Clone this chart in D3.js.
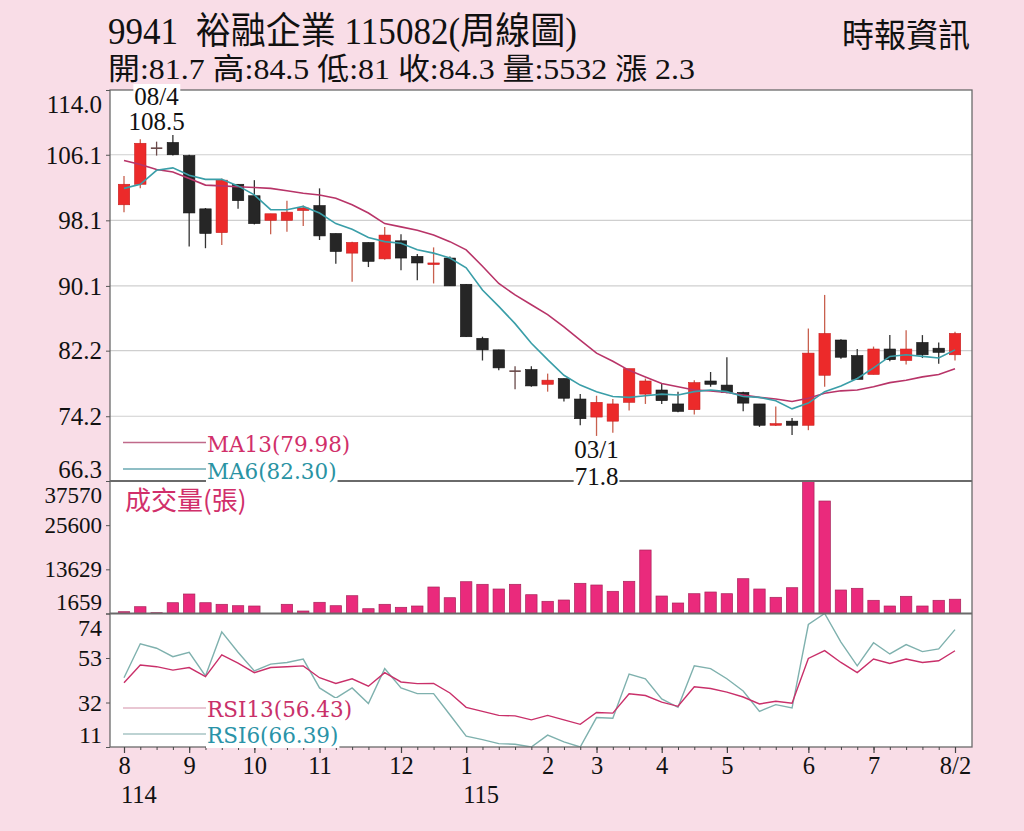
<!DOCTYPE html>
<html lang="zh-Hant">
<head>
<meta charset="UTF-8">
<script src="https://cdn.jsdelivr.net/npm/d3@7"></script>
<title>9941 裕融企業 周線圖</title>
<style>
  html, body { margin: 0; padding: 0; background: #f9dde7; }
  svg { display: block; }
</style>
</head>
<body>
<script>
// ---- data (52 weeks, 114/08 .. 115/08) ----
const opens  = [100.0,102.5,107.0,107.6,106.0,99.5,96.6,102.5,101.1,98.1,98.1,99.3,99.9,96.5,94.1,95.4,93.4,95.6,93.7,92.8,
                93.5,90.3,83.7,82.3,79.8,79.9,78.1,78.8,76.3,74.1,73.6,75.9,76.9,77.4,75.7,75.0,78.5,78.0,77.1,75.7,
                73.1,73.6,73.1,79.2,83.5,81.6,79.3,82.4,81.0,83.2,82.5,81.7];
const highs  = [103.5,108.0,107.7,108.5,106.1,99.6,103.2,102.5,103.0,98.9,100.5,99.9,102.0,96.5,95.5,95.4,97.3,96.4,94.0,94.8,
                93.7,90.3,83.9,82.3,80.3,80.3,79.4,78.8,76.9,76.7,76.3,80.0,78.8,78.2,77.2,78.6,79.6,81.4,77.2,75.7,
                75.4,74.0,84.9,89.0,83.6,82.4,82.7,84.1,84.7,84.1,83.2,84.5];
const lows   = [99.1,102.0,106.0,106.0,94.9,94.7,95.1,99.5,97.6,96.4,96.7,97.4,95.7,92.8,90.6,92.4,93.3,92.0,90.8,90.4,
                90.1,83.9,81.0,79.8,77.5,77.8,77.2,76.0,73.1,71.8,72.2,74.9,75.7,75.7,74.7,74.4,77.8,77.0,74.8,72.9,
                73.0,71.9,72.5,77.8,81.2,78.7,79.3,80.9,80.5,81.3,80.6,81.0];
const closes = [102.5,107.5,107.0,106.1,99.0,96.5,103.0,100.5,97.7,98.9,99.1,99.6,96.2,94.3,95.4,93.1,96.3,93.5,92.9,92.9,
                90.1,83.9,82.3,80.1,79.8,77.9,78.6,76.4,73.9,75.9,75.7,80.0,78.5,76.1,74.8,78.3,78.1,77.1,75.8,73.1,
                73.3,73.1,81.9,84.3,81.4,78.7,82.4,81.1,82.4,81.7,82.0,84.3];
const ma13   = [105.4,104.9,104.3,104.0,103.2,102.4,102.3,102.2,102.1,102.0,101.7,101.4,101.2,100.8,100.0,99.0,97.7,97.3,96.9,96.3,
                95.5,94.5,92.5,90.4,89.0,87.8,86.6,85.1,83.5,81.9,80.9,79.8,79.0,78.2,77.8,77.4,77.3,77.1,76.8,76.5,
                76.3,76.0,76.4,77.0,77.3,77.4,77.8,78.3,78.6,79.0,79.3,79.98];
const ma6    = [102.0,102.5,104.2,104.5,103.6,103.1,103.1,102.3,101.2,99.4,99.4,99.8,99.0,97.7,97.0,96.0,95.5,95.3,94.5,94.1,
                93.5,92.3,89.6,87.6,85.5,83.1,81.1,79.2,78.0,77.2,76.6,76.5,76.7,76.9,76.8,77.2,77.4,77.2,76.6,76.5,
                76.1,75.1,75.8,77.2,77.9,78.8,80.1,81.5,81.7,81.5,81.3,82.3];
const volumes = [2147,3502,1876,4586,6944,4586,4152,3773,3692,1659,4152,2337,4694,3773,6483,2960,4152,3339,3692,8841,
                 5941,10277,9572,8299,9572,6754,4965,5318,9843,9383,7675,10385,18867,6402,4505,7025,7486,7025,11090,8299,
                 6049,8651,37570,32146,8028,8488,5236,3692,6320,3692,5236,5532];
const rsi13  = [41.3,49.7,48.9,47.3,48.5,44.2,54.5,50.6,46.1,48.5,48.9,49.3,43.7,41.0,43.2,39.7,46.1,41.7,40.9,41.0,
                36.5,29.7,27.8,25.9,25.7,23.8,25.9,23.8,21.7,27.3,27.0,36.1,35.3,32.2,30.2,39.4,38.6,36.9,34.6,31.3,
                32.6,31.7,52.8,56.5,50.9,46.1,52.5,50.4,52.5,50.9,51.7,56.43];
const rsi6   = [43.7,59.7,57.6,53.6,55.7,44.5,65.3,55.7,46.9,50.1,50.9,52.5,38.9,34.1,38.9,31.5,48.0,38.9,36.2,36.2,
                26.2,16.1,14.5,12.6,12.3,11.0,16.6,13.4,11.0,24.9,24.6,45.4,43.2,33.7,29.7,49.3,48.0,43.2,37.4,27.8,
                31.0,29.4,68.8,74.0,60.5,49.3,60.2,54.9,59.3,56.0,57.3,66.39];

const priceTicks = [114.0, 106.1, 98.1, 90.1, 82.2, 74.2, 66.3];
const volTicks   = [37570, 25600, 13629, 1659];
const rsiTicks   = [74, 53, 32, 11];
const monthIdx    = [0, 4, 8, 12, 17, 21, 26, 29, 33, 37, 42, 46, 51];
const monthLabels = ["8", "9", "10", "11", "12", "1", "2", "3", "4", "5", "6", "7", "8/2"];
const yearIdx     = [0, 21];
const yearLabels  = ["114", "115"];
const hiDate = "08/4", loDate = "03/1";

const title    = "9941\u00a0\u00a0裕融企業 115082(周線圖)";
const subtitle = "開:81.7 高:84.5 低:81 收:84.3 量:5532 漲 2.3";
const source   = "時報資訊";

// ---- layout ----
const W = 1024, H = 831;
const left = 110, right = 972;
const priceTop = 90, priceBot = 481, volBot = 613.5, rsiBot = 747;
const serif = "'Liberation Serif', 'Noto Sans CJK TC', serif";
const legendFont = "'DejaVu Serif', serif";
const cjk = "'Noto Sans CJK TC', sans-serif";

const svg = d3.select("body").append("svg")
    .attr("width", W)
    .attr("height", H);

const n = closes.length;
const x = d3.scaleLinear().domain([0, n - 1]).range([124, 955]);
const step = x(1) - x(0);
const bodyW = step * 0.7;

const yP = d3.scaleLinear().domain([66.3, 114.0]).range([priceBot, priceTop]);
const yV = d3.scaleLinear().domain([1659, 37570]).range([volBot, priceBot]);
const yR = d3.scaleLinear().domain([11, 74]).range([rsiBot, volBot]);

// plot background
svg.append("rect")
    .attr("x", left).attr("y", priceTop)
    .attr("width", right - left).attr("height", rsiBot - priceTop)
    .attr("fill", "#fff");

// clip paths for panels
const defs = svg.append("defs");
defs.append("clipPath").attr("id", "clipVol").append("rect")
    .attr("x", left).attr("y", priceBot).attr("width", right - left).attr("height", volBot - priceBot);
defs.append("clipPath").attr("id", "clipRsi").append("rect")
    .attr("x", left).attr("y", volBot).attr("width", right - left).attr("height", rsiBot - volBot);

// price grid
svg.append("g")
    .selectAll("line")
    .data(priceTicks.slice(1, -1))
    .enter().append("line")
    .attr("x1", left).attr("x2", right)
    .attr("y1", d => yP(d)).attr("y2", d => yP(d))
    .attr("stroke", "#cfcfcf")
    .attr("stroke-width", 1.2);

// ---- candles ----
const upColor = "#ec2a2a", downColor = "#262626";
const candles = svg.append("g")
    .selectAll("g")
    .data(d3.range(n))
    .enter().append("g");

candles.append("line")
    .attr("x1", i => x(i)).attr("x2", i => x(i))
    .attr("y1", i => yP(highs[i])).attr("y2", i => yP(lows[i]))
    .attr("stroke", i => closes[i] > opens[i] ? "#c8604e" : (closes[i] < opens[i] ? "#333" : "#6a4a4a"))
    .attr("stroke-width", 1.3);

candles.append("rect")
    .attr("x", i => x(i) - bodyW / 2)
    .attr("width", bodyW)
    .attr("y", i => yP(Math.max(opens[i], closes[i])))
    .attr("height", i => Math.max(1.6, Math.abs(yP(opens[i]) - yP(closes[i]))))
    .attr("fill", i => closes[i] > opens[i] ? upColor : (closes[i] < opens[i] ? downColor : "#6a4a4a"))
    .attr("stroke", i => closes[i] > opens[i] ? "#c81e1e" : "#111")
    .attr("stroke-width", i => closes[i] === opens[i] ? 0 : 0.6);

// ---- moving averages ----
const line = d3.line().x((d, i) => x(i)).y(d => yP(d));
svg.append("path").datum(ma13)
    .attr("d", line)
    .attr("fill", "none")
    .attr("stroke", "#b83468")
    .attr("stroke-width", 1.6);
svg.append("path").datum(ma6)
    .attr("d", line)
    .attr("fill", "none")
    .attr("stroke", "#3a9ea8")
    .attr("stroke-width", 1.6);

// ---- volume ----
svg.append("g")
    .attr("clip-path", "url(#clipVol)")
    .selectAll("rect")
    .data(volumes)
    .enter().append("rect")
    .attr("x", (d, i) => x(i) - bodyW / 2)
    .attr("width", bodyW)
    .attr("y", d => yV(d))
    .attr("height", d => volBot - yV(d))
    .attr("fill", "#ea2a7c")
    .attr("stroke", "#a8235a")
    .attr("stroke-width", 0.7);

// ---- RSI ----
const rLine = d3.line().x((d, i) => x(i)).y(d => yR(d));
const rsiG = svg.append("g").attr("clip-path", "url(#clipRsi)");
rsiG.append("path").datum(rsi6)
    .attr("d", rLine)
    .attr("fill", "none")
    .attr("stroke", "#7fb1ae")
    .attr("stroke-width", 1.4);
rsiG.append("path").datum(rsi13)
    .attr("d", rLine)
    .attr("fill", "none")
    .attr("stroke", "#c9306a")
    .attr("stroke-width", 1.4);

// ---- frame ----
svg.append("rect")
    .attr("x", left).attr("y", priceTop)
    .attr("width", right - left).attr("height", rsiBot - priceTop)
    .attr("fill", "none")
    .attr("stroke", "#6a6a6a")
    .attr("stroke-width", 1.3);
[priceBot, volBot].forEach(yy => {
    svg.append("line")
        .attr("x1", left).attr("x2", right)
        .attr("y1", yy).attr("y2", yy)
        .attr("stroke", "#6a6a6a")
        .attr("stroke-width", 1.8);
});

// ---- left axes (end labels are pulled inside the panel) ----
function leftAxis(scale, ticks, fmt, top, bot, size) {
    const g = svg.append("g")
        .attr("transform", `translate(${left},0)`)
        .call(d3.axisLeft(scale).tickValues(ticks).tickFormat(fmt).tickSize(4).tickPadding(4));
    g.select(".domain").remove();
    g.selectAll(".tick line").attr("stroke", "#555");
    g.selectAll(".tick text")
        .attr("font-family", serif)
        .attr("font-size", size)
        .attr("fill", "#111")
        .attr("dy", d => {
            const y0 = scale(d);
            const y1 = Math.min(Math.max(y0, top + 14), bot - 12);
            return (y1 - y0 + size * 0.33) + "px";
        });
    return g;
}
leftAxis(yP, priceTicks, d3.format(".1f"), priceTop, priceBot, 25);
leftAxis(yV, volTicks, d3.format("d"), priceBot, volBot, 23);
leftAxis(yR, rsiTicks, d3.format("d"), volBot, rsiBot, 24);

// ---- bottom axis ----
const weekAxis = svg.append("g")
    .attr("transform", `translate(0,${rsiBot})`)
    .call(d3.axisBottom(x).tickValues(d3.range(n)).tickFormat("").tickSize(3));
weekAxis.select(".domain").remove();
weekAxis.selectAll(".tick line").attr("stroke", "#444");

const monthAxis = svg.append("g")
    .attr("transform", `translate(0,${rsiBot})`)
    .call(d3.axisBottom(x).tickValues(monthIdx)
        .tickFormat((d, i) => monthLabels[i]).tickSize(6).tickPadding(4));
monthAxis.select(".domain").remove();
monthAxis.selectAll(".tick line").attr("stroke", "#444").attr("stroke-width", 1.2);
monthAxis.selectAll(".tick text")
    .attr("font-family", serif)
    .attr("font-size", 24.5)
    .attr("fill", "#111");

svg.append("g")
    .selectAll("text")
    .data(yearIdx)
    .enter().append("text")
    .attr("x", d => x(d) - 3)
    .attr("y", 803)
    .attr("font-family", serif)
    .attr("font-size", 24.5)
    .attr("fill", "#111")
    .text((d, i) => yearLabels[i]);

// ---- labels with white backing ----
function label(txt, xx, yy, opts) {
    const g = svg.append("g");
    const t = g.append("text")
        .attr("x", xx).attr("y", yy)
        .attr("font-family", opts.font || serif)
        .attr("font-size", opts.size)
        .attr("fill", opts.color || "#111")
        .attr("text-anchor", opts.anchor || "start")
        .text(txt);
    if (opts.bg) {
        const b = t.node().getBBox();
        g.insert("rect", "text")
            .attr("x", b.x - 1).attr("y", b.y + 1)
            .attr("width", b.width + 2).attr("height", b.height - 1)
            .attr("fill", "#fff");
    }
    return t;
}

// extreme labels
const hiIdx = d3.maxIndex(highs), loIdx = d3.minIndex(lows);
label(hiDate, x(hiIdx) - step, 105, {size: 25, anchor: "middle", bg: true});
label(d3.format(".1f")(highs[hiIdx]), x(hiIdx) - step, 130, {size: 25, anchor: "middle", bg: true});
label(loDate, x(loIdx), 458, {size: 25, anchor: "middle", bg: true});
label(d3.format(".1f")(lows[loIdx]), x(loIdx), 485, {size: 25, anchor: "middle", bg: true});

// legends
const legends = [
    {txt: `MA13(${d3.format(".2f")(ma13[n - 1])})`, y: 451.5, ly: 442.5, color: "#d12f6a", lc: "#c06a8a"},
    {txt: `MA6(${d3.format(".2f")(ma6[n - 1])})`, y: 478.5, ly: 469, color: "#2a93a3", lc: "#6aa8b2"},
    {txt: `RSI13(${d3.format(".2f")(rsi13[n - 1])})`, y: 717, ly: 708, color: "#c9306a", lc: "#e2b4c4"},
    {txt: `RSI6(${d3.format(".2f")(rsi6[n - 1])})`, y: 743, ly: 734, color: "#2a93a8", lc: "#a7c4c4"}
];
legends.forEach(l => {
    svg.append("line")
        .attr("x1", left + 13).attr("x2", left + 97)
        .attr("y1", l.ly).attr("y2", l.ly)
        .attr("stroke", l.lc)
        .attr("stroke-width", 1.3);
    label(l.txt, left + 97, l.y, {size: 21.5, font: legendFont, color: l.color, bg: true});
});

label("成交量(張)", left + 15, 510, {size: 26, font: cjk, color: "#d12f6a"});

// ---- header ----
svg.append("text")
    .attr("x", 108).attr("y", 44)
    .attr("font-family", serif)
    .attr("font-size", 37)
    .attr("fill", "#111")
    .attr("textLength", 469)
    .attr("lengthAdjust", "spacingAndGlyphs")
    .text(title);
svg.append("text")
    .attr("x", 108).attr("y", 79)
    .attr("font-family", serif)
    .attr("font-size", 30)
    .attr("fill", "#111")
    .attr("textLength", 587)
    .attr("lengthAdjust", "spacingAndGlyphs")
    .text(subtitle);
svg.append("text")
    .attr("x", 842).attr("y", 47)
    .attr("font-family", cjk)
    .attr("font-size", 33)
    .attr("fill", "#111")
    .attr("textLength", 128)
    .attr("lengthAdjust", "spacingAndGlyphs")
    .text(source);
</script>
</body>
</html>
